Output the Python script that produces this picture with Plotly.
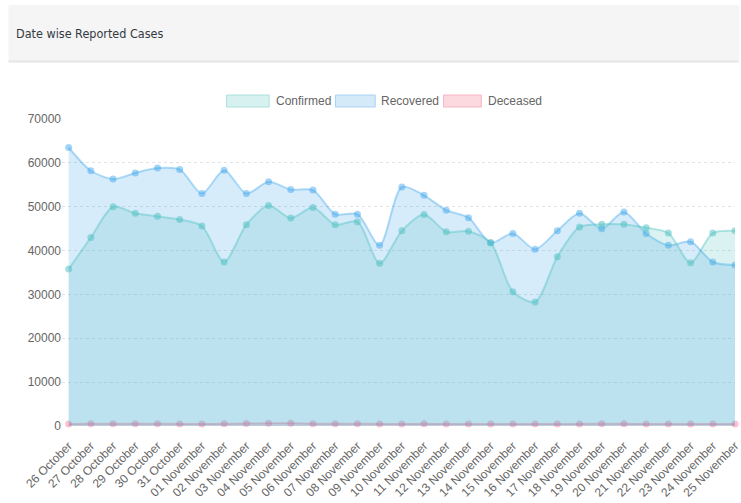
import plotly.graph_objects as go

dates = ["26 October", "27 October", "28 October", "29 October", "30 October", "31 October",
         "01 November", "02 November", "03 November", "04 November", "05 November",
         "06 November", "07 November", "08 November", "09 November", "10 November",
         "11 November", "12 November", "13 November", "14 November", "15 November",
         "16 November", "17 November", "18 November", "19 November", "20 November",
         "21 November", "22 November", "23 November", "24 November", "25 November"]

confirmed = [35800, 43000, 50000, 48500, 47800, 47100, 45600, 37400, 45900, 50300, 47400,
             49800, 45900, 46600, 37100, 44500, 48200, 44300, 44400, 41800, 30600, 28300,
             38600, 45400, 46000, 46000, 45200, 44000, 37200, 44000, 44500]

recovered = [63500, 58200, 56300, 57700, 58800, 58500, 53000, 58300, 53000, 55700, 53900,
             53800, 48300, 48300, 41200, 54500, 52600, 49200, 47500, 41800, 43900, 40300,
             44500, 48500, 45000, 48800, 43900, 41200, 42000, 37400, 36700]

deceased = [480, 500, 520, 510, 490, 480, 470, 490, 560, 650, 620, 540, 510, 500, 480, 470,
            490, 460, 470, 450, 440, 450, 470, 480, 500, 490, 470, 460, 450, 440, 430]

series_names = ["Confirmed", "Recovered", "Deceased"]
y_ticks = [0, 10000, 20000, 30000, 40000, 50000, 60000, 70000]

W, H = 741, 503
L, R, T, B = 62, 0, 119, 77
PW, PH = W - L - R, H - T - B

def px_x(px):
    return (px - L) / PW

def px_y(py):
    return (H - B - py) / PH

styles = {
    "Confirmed": dict(fill="rgba(75,192,192,0.2)", line="rgba(75,192,192,0.4)",
                      mk="rgba(75,192,192,0.5)"),
    "Recovered": dict(fill="rgba(54,162,235,0.2)", line="rgba(54,162,235,0.38)",
                      mk="rgba(54,162,235,0.45)"),
    "Deceased": dict(fill="rgba(255,99,132,0.2)", line="rgba(255,99,132,0.4)",
                     mk="rgba(255,99,132,0.4)"),
}
data_map = {"Confirmed": confirmed, "Recovered": recovered, "Deceased": deceased}

fig = go.Figure()
for name in ["Deceased", "Recovered", "Confirmed"]:
    st = styles[name]
    fig.add_trace(go.Scatter(
        x=dates, y=data_map[name], name=name, mode="lines+markers",
        fill="tozeroy", fillcolor=st["fill"],
        line=dict(color=st["line"], width=2, shape="spline", smoothing=0.8),
        marker=dict(size=7, color=st["mk"]),
        cliponaxis=(name != "Deceased"),
        showlegend=False,
    ))

shapes = [
    dict(type="rect", xref="paper", yref="paper", x0=px_x(8), x1=px_x(745),
         y0=px_y(61), y1=px_y(5), fillcolor="#f5f5f5", line=dict(width=0), layer="below"),
    dict(type="line", xref="paper", yref="paper", x0=px_x(8), x1=px_x(745),
         y0=px_y(61.5), y1=px_y(61.5), line=dict(color="#e6e6e6", width=2)),
]
annotations = [
    dict(text="Date wise Reported Cases", xref="paper", yref="paper", x=px_x(14), y=px_y(33),
         xanchor="left", yanchor="middle", showarrow=False,
         font=dict(family="DejaVu Sans Condensed, Inter",
                   size=12.5, color="#343a44")),
]

legend_boxes = [(228, 271, 276), (338, 378, 382), (447, 485, 490)]
legend_cols = {
    "Confirmed": ("#d6f1f0", "#ace0de"),
    "Recovered": ("#d5eaf9", "#a9d2f2"),
    "Deceased": ("#fcd8df", "#f6b6c3"),
}
for name, (bx0, bx1, tx) in zip(series_names, legend_boxes):
    fc, lc = legend_cols[name]
    shapes.append(dict(type="rect", xref="paper", yref="paper",
                       x0=px_x(bx0), x1=px_x(bx1), y0=px_y(107), y1=px_y(95),
                       fillcolor=fc, line=dict(color=lc, width=1)))
    annotations.append(dict(text=name, xref="paper", yref="paper", x=px_x(tx), y=px_y(101),
                            xanchor="left", yanchor="middle", showarrow=False,
                            font=dict(family="Liberation Sans", size=12, color="#666666")))

fig.update_layout(
    width=W, height=H,
    margin=dict(l=L, r=R, t=T, b=B, pad=0),
    paper_bgcolor="white", plot_bgcolor="white",
    shapes=shapes, annotations=annotations,
    showlegend=False,
    font=dict(family="Liberation Sans", size=12, color="#666666"),
    xaxis=dict(type="category", range=[-0.3, 30], showgrid=False, zeroline=False,
               showline=False, ticks="outside", ticklen=7, tickcolor="rgba(0,0,0,0)",
               tickangle=-45,
               tickfont=dict(family="Liberation Sans", size=12, color="#666666")),
    yaxis=dict(range=[0, 70000], tickvals=y_ticks, ticktext=[str(v) for v in y_ticks],
               showgrid=True, gridcolor="#e3e3e3", griddash="dot", gridwidth=1,
               zeroline=False, showline=False, ticks="",
               tickfont=dict(family="Liberation Sans", size=12, color="#666666")),
)

fig.write_html("out.html", config={"displayModeBar": False},
               post_script="document.body.style.margin='0';document.body.style.padding='0';")
